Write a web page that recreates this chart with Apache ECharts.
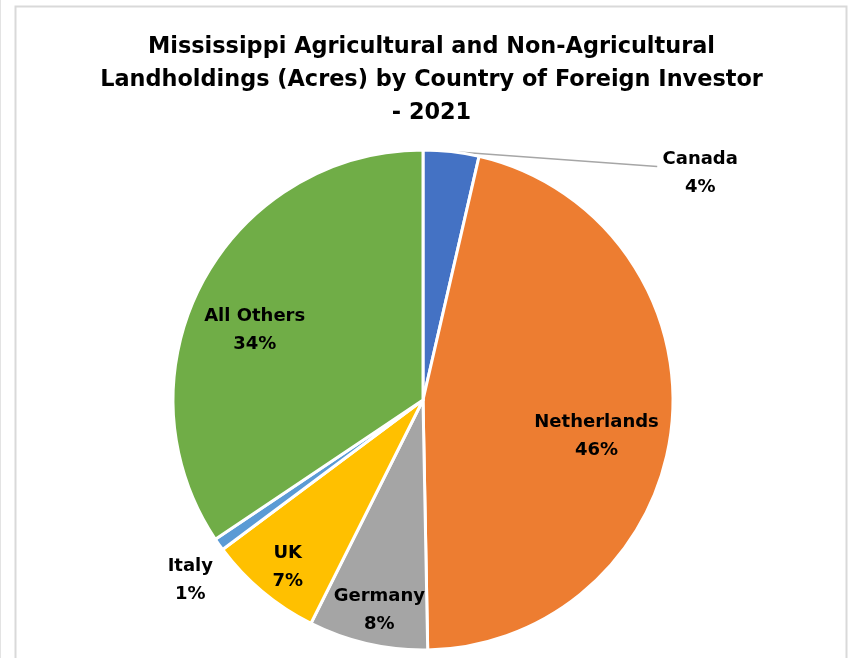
<!DOCTYPE html>
<html>
<head>
<meta charset="utf-8">
<script src="https://cdn.jsdelivr.net/npm/echarts@6/dist/echarts.min.js"></script>
<style>
  html, body { margin: 0; padding: 0; background: #ffffff; }
  #chart { width: 848px; height: 658px; }
</style>
</head>
<body>
<div id="chart"></div>
<script>
// Share of foreign-held acres by investor country (percent of total)
const titleLines = [
  'Mississippi Agricultural and Non-Agricultural',
  'Landholdings (Acres) by Country of Foreign Investor',
  '- 2021'
];
const countries = ['Canada', 'Netherlands', 'Germany', 'UK', 'Italy', 'All Others'];
const shares = [3.6, 46.1, 7.7, 7.4, 0.8, 34.4];
const sliceColors = ['#4472C4', '#ED7D31', '#A5A5A5', '#FFC000', '#5B9BD5', '#70AD47'];

// Pie geometry (pixels)
const PIE_CX = 423, PIE_CY = 400, PIE_R = 250;
// Distance of each label from the centre, as a fraction of the radius
const labelReach = [null, 0.71, 0.79, 0.78, 1.14, 0.745];
// Small sideways nudges for labels (pixels)
const labelNudgeX = [0, -3, 0, -10, 0, -4];
const labelDrop = 18;

const chart = echarts.init(document.getElementById('chart'), null, { renderer: 'canvas' });

const pieData = countries.map((name, i) => {
  const item = { name: name, value: shares[i], itemStyle: { color: sliceColors[i] } };
  if (i === 0) {
    item.label = { position: 'outside' };
    item.labelLine = { show: true, length: 10, length2: 20 };
  }
  return item;
});

const option = {
  backgroundColor: '#ffffff',
  animation: false,
  title: {
    text: titleLines.join('\n'),
    left: 431.5,
    textAlign: 'center',
    top: 31,
    padding: 0,
    textStyle: {
      fontFamily: 'DejaVu Sans',
      fontWeight: 'bold',
      fontSize: 22.4,
      lineHeight: 33,
      color: '#000000'
    }
  },
  graphic: [
    {
      type: 'rect',
      silent: true,
      shape: { x: 15.5, y: 6.5, width: 831, height: 700 },
      style: { fill: 'none', stroke: '#d9d9d9', lineWidth: 2 }
    },
    {
      type: 'line',
      silent: true,
      shape: { x1: 0.5, y1: 0, x2: 0.5, y2: 658 },
      style: { stroke: '#e3e3e3', lineWidth: 1 }
    }
  ],
  series: [{
    type: 'pie',
    center: [PIE_CX, PIE_CY],
    radius: [0, PIE_R],
    startAngle: 90,
    clockwise: true,
    percentPrecision: 0,
    avoidLabelOverlap: false,
    silent: true,
    itemStyle: { borderColor: '#ffffff', borderWidth: 3 },
    label: {
      show: true,
      position: 'inside',
      formatter: '{b}\n{d}%',
      fontFamily: 'DejaVu Sans',
      fontWeight: 'bold',
      fontSize: 18,
      lineHeight: 28,
      color: '#000000'
    },
    labelLine: { show: false, lineStyle: { color: '#a6a6a6', width: 1.5 } },
    labelLayout: function (p) {
      const i = p.dataIndex;
      if (i === 0) {
        // Canada: label off to the right, joined by a leader line from the rim
        const s = p.labelLinePoints[0];
        const x = s[0] + 249, y = s[1] + 22;
        return {
          x: x, y: y, align: 'center', verticalAlign: 'middle',
          labelLinePoints: [[s[0], s[1]], [x - 43, y - 7]]
        };
      }
      const r = p.labelRect;
      const mx = r.x + r.width / 2 - PIE_CX;
      const my = r.y + r.height / 2 - PIE_CY;
      const len = Math.sqrt(mx * mx + my * my) || 1;
      const k = labelReach[i] * PIE_R;
      return {
        x: PIE_CX + mx / len * k + labelNudgeX[i],
        y: PIE_CY + my / len * k + labelDrop - (i === 4 ? 2 : 0),
        align: 'center',
        verticalAlign: 'middle'
      };
    },
    data: pieData
  }]
};

chart.setOption(option);
</script>
</body>
</html>
